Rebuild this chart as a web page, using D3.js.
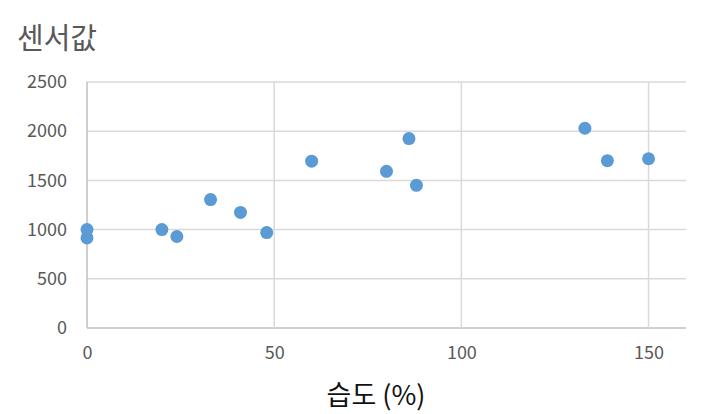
<!DOCTYPE html>
<html>
<head>
<meta charset="utf-8">
<script src="https://cdn.jsdelivr.net/npm/d3@7"></script>
<style>
  body { margin: 0; background: #fff; }
  svg { display: block; }
</style>
</head>
<body>
<div id="chart"></div>
<script>
// data
var humidity = [0, 0, 20, 24, 33, 41, 48, 60, 80, 86, 88, 133, 139, 150];
var sensor   = [1000, 915, 1000, 930, 1305, 1175, 970, 1695, 1592, 1925, 1450, 2030, 1700, 1720];
var xTicks = [0, 50, 100, 150];
var yTicks = [0, 500, 1000, 1500, 2000, 2500];
var title = "센서값";
var xTitle = "습도 (%)";

var W = 710, H = 414;
var margin = { top: 82, right: 24, bottom: 86, left: 87 };
var width = W - margin.left - margin.right;
var height = H - margin.top - margin.bottom;
var font = "'Noto Sans CJK KR', 'Open Sans', sans-serif";

var svg = d3.select("#chart").append("svg")
    .attr("width", W)
    .attr("height", H);

var g = svg.append("g")
    .attr("transform", "translate(" + margin.left + "," + margin.top + ")");

var x = d3.scaleLinear().domain([0, 160]).range([0, width]);
var y = d3.scaleLinear().domain([0, 2500]).range([height, 0]);

// gridlines
g.selectAll(".hgrid")
    .data(yTicks)
    .enter().append("line")
    .attr("x1", 0).attr("x2", width)
    .attr("y1", function(d){ return y(d); })
    .attr("y2", function(d){ return y(d); })
    .attr("stroke", function(d){ return d === 0 ? "#bfbfbf" : "#d9d9d9"; })
    .attr("stroke-width", 1.5);

g.selectAll(".vgrid")
    .data(xTicks)
    .enter().append("line")
    .attr("y1", 0).attr("y2", height)
    .attr("x1", function(d){ return x(d); })
    .attr("x2", function(d){ return x(d); })
    .attr("stroke", function(d){ return d === 0 ? "#bfbfbf" : "#d9d9d9"; })
    .attr("stroke-width", 1.5);

// axes labels (no domain lines, gridlines do that)
var yAxis = g.append("g")
    .call(d3.axisLeft(y).tickValues(yTicks).tickFormat(d3.format("d")).tickSize(0).tickPadding(20));
var xAxis = g.append("g")
    .attr("transform", "translate(0," + height + ")")
    .call(d3.axisBottom(x).tickValues(xTicks).tickFormat(d3.format("d")).tickSize(0).tickPadding(18));
[xAxis, yAxis].forEach(function(a){
  a.select(".domain").remove();
  a.selectAll("text")
    .style("font-family", font)
    .style("font-size", "18px")
    .attr("fill", "#595959");
});

// points
g.selectAll(".dot")
    .data(humidity)
    .enter().append("circle")
    .attr("cx", function(d){ return x(d); })
    .attr("cy", function(d, i){ return y(sensor[i]); })
    .attr("r", 6.5)
    .attr("fill", "#5b9bd5");

// titles
svg.append("text")
    .attr("x", 17).attr("y", 49)
    .text(title)
    .style("font-family", font)
    .style("font-size", "29px")
    .attr("fill", "#595959");

svg.append("text")
    .attr("x", 376).attr("y", 405)
    .attr("text-anchor", "middle")
    .text(xTitle)
    .style("font-family", font)
    .style("font-size", "27px")
    .attr("fill", "#111");
</script>
</body>
</html>
